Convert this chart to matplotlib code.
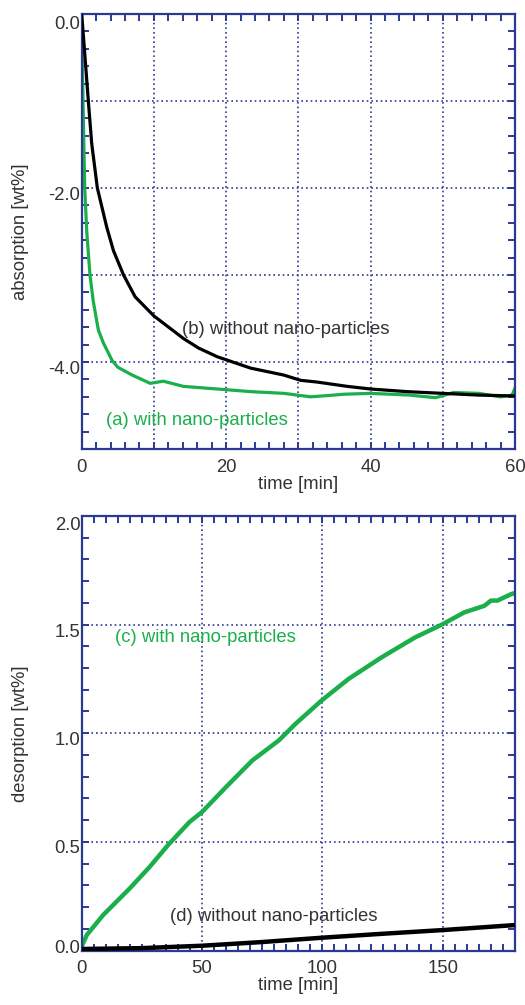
import matplotlib
matplotlib.use("Agg")
import matplotlib.pyplot as plt
from matplotlib.ticker import MultipleLocator, FixedLocator
from matplotlib.transforms import ScaledTranslation

plt.rcParams['font.family'] = ['Liberation Sans', 'DejaVu Sans']

# absorption, with nano-particles (a)
abs_a_t = [0, 0.1, 0.25, 0.42, 0.7, 1.15, 1.6, 2.3, 3.0, 4.2, 5.0, 7.0, 9.5, 11.3, 14.1,
           18.8, 23.4, 28.0, 31.7, 34.9, 36.3, 40.0, 45.4, 49.0, 51.5, 55.0, 58.0, 59.6, 60]
abs_a_v = [-0.2, -0.6, -1.3, -2.0, -2.5, -3.0, -3.3, -3.63, -3.78, -3.98, -4.06, -4.15, -4.245,
           -4.22, -4.28, -4.31, -4.34, -4.36, -4.40, -4.38, -4.37, -4.36, -4.38, -4.41, -4.35,
           -4.36, -4.40, -4.38, -4.30]
# absorption, without nano-particles (b)
abs_b_t = [0, 0.32, 0.92, 1.39, 2.17, 3.47, 4.4, 5.8, 7.4, 10, 14.1, 16.2, 18.8, 23.4, 28,
           30.3, 32.6, 36.8, 40, 45, 50, 55, 60]
abs_b_v = [0, -0.34, -1.0, -1.49, -2.0, -2.45, -2.72, -3.0, -3.25, -3.47, -3.73, -3.84, -3.94,
           -4.07, -4.15, -4.21, -4.23, -4.28, -4.31, -4.34, -4.36, -4.38, -4.39]

# desorption, with nano-particles (c)
des_c_t = [0, 2.1, 8.9, 20, 28.2, 35.8, 44.8, 50, 59.9, 70.9, 81.9, 88.8, 99.6, 110.9, 124.6,
           138.4, 149.7, 159, 167.3, 170, 172.7, 178.5, 180]
des_c_v = [0.02, 0.072, 0.164, 0.287, 0.385, 0.485, 0.592, 0.638, 0.752, 0.875, 0.967, 1.043,
           1.15, 1.25, 1.349, 1.44, 1.50, 1.556, 1.586, 1.61, 1.61, 1.64, 1.645]
# desorption, without nano-particles (d)
des_d_t = [0, 25, 50, 75, 100, 125, 150, 180]
des_d_v = [0.008, 0.012, 0.023, 0.04, 0.06, 0.078, 0.095, 0.118]

NAVY = '#2b3990'
GREEN = '#1aaf4b'
TXT = '#333333'
FS = 13.3

fig = plt.figure(figsize=(5.25, 10.05), dpi=100)
ax1 = fig.add_axes([0.1556, 0.5532, 0.8253, 0.4328])
ax2 = fig.add_axes([0.1556, 0.054, 0.8253, 0.4328])


def style(ax, xticks, xminor, yticks, yminor, grid_x, grid_y):
    for s in ax.spines.values():
        s.set_color(NAVY)
        s.set_linewidth(1.6)
    ax.xaxis.set_major_locator(FixedLocator(xticks))
    ax.yaxis.set_major_locator(FixedLocator(yticks))
    ax.xaxis.set_minor_locator(MultipleLocator(xminor))
    ax.yaxis.set_minor_locator(MultipleLocator(yminor))
    ax.tick_params(which='both', direction='in', top=True, right=True, color=NAVY,
                   length=5, width=1.4, labelsize=FS, labelcolor=TXT)
    ax.tick_params(axis='y', pad=1)
    ax.tick_params(axis='x', pad=7)
    for g in grid_x:
        ax.axvline(g, color=NAVY, lw=1.2, ls=(0, (1, 1.8)), zorder=1)
    for g in grid_y:
        ax.axhline(g, color=NAVY, lw=1.2, ls=(0, (1, 1.8)), zorder=1)


def shift_ylabels(ax, shifts):
    for lab, dy in zip(ax.get_yticklabels(), shifts):
        lab.set_transform(lab.get_transform() + ScaledTranslation(0, dy / 100, fig.dpi_scale_trans))


# --- top: absorption
ax1.plot(abs_b_t, abs_b_v, color='black', lw=2.3, zorder=3)
ax1.plot(abs_a_t, abs_a_v, color=GREEN, lw=2.3, zorder=2)
ax1.set_xlim(0, 60)
ax1.set_ylim(-5, 0)
style(ax1, [0, 20, 40, 60], 2, [0, -2, -4], 0.2, [10, 20, 30, 40, 50], [-1, -2, -3, -4])
ax1.set_xticklabels(['0', '20', '40', '60'])
ax1.set_yticklabels(['0.0', '-2.0', '-4.0'])
shift_ylabels(ax1, [-8, -5, -5])
ax1.set_xlabel('time [min]', fontsize=FS, color=TXT, labelpad=0)
ax1.set_ylabel('absorption [wt%]', fontsize=FS, color=TXT)
ax1.yaxis.set_label_coords(-0.122, 0.5)
ax1.text(13.85, -3.63, '(b) without nano-particles', fontsize=FS, color=TXT, ha='left', va='center')
ax1.text(3.4, -4.67, '(a) with nano-particles', fontsize=FS, color=GREEN, ha='left', va='center')

# --- bottom: desorption
ax2.plot(des_c_t, des_c_v, color=GREEN, lw=3.2, zorder=2)
ax2.plot(des_d_t, des_d_v, color='black', lw=3.2, zorder=3)
ax2.set_xlim(0, 180)
ax2.set_ylim(0, 2.0)
style(ax2, [0, 50, 100, 150], 5, [0, 0.5, 1.0, 1.5, 2.0], 0.1, [50, 100, 150], [0.5, 1.0, 1.5])
ax2.set_xticklabels(['0', '50', '100', '150'])
ax2.set_yticklabels(['0.0', '0.5', '1.0', '1.5', '2.0'])
shift_ylabels(ax2, [4, -5, -5, -6, -8])
ax2.set_xlabel('time [min]', fontsize=FS, color=TXT, labelpad=0)
ax2.set_ylabel('desorption [wt%]', fontsize=FS, color=TXT)
ax2.yaxis.set_label_coords(-0.122, 0.5)
ax2.text(13.8, 1.44, '(c) with nano-particles', fontsize=FS, color=GREEN, ha='left', va='center')
ax2.text(36.6, 0.156, '(d) without nano-particles', fontsize=FS, color=TXT, ha='left', va='center')

fig.savefig('out.png', dpi=100)
